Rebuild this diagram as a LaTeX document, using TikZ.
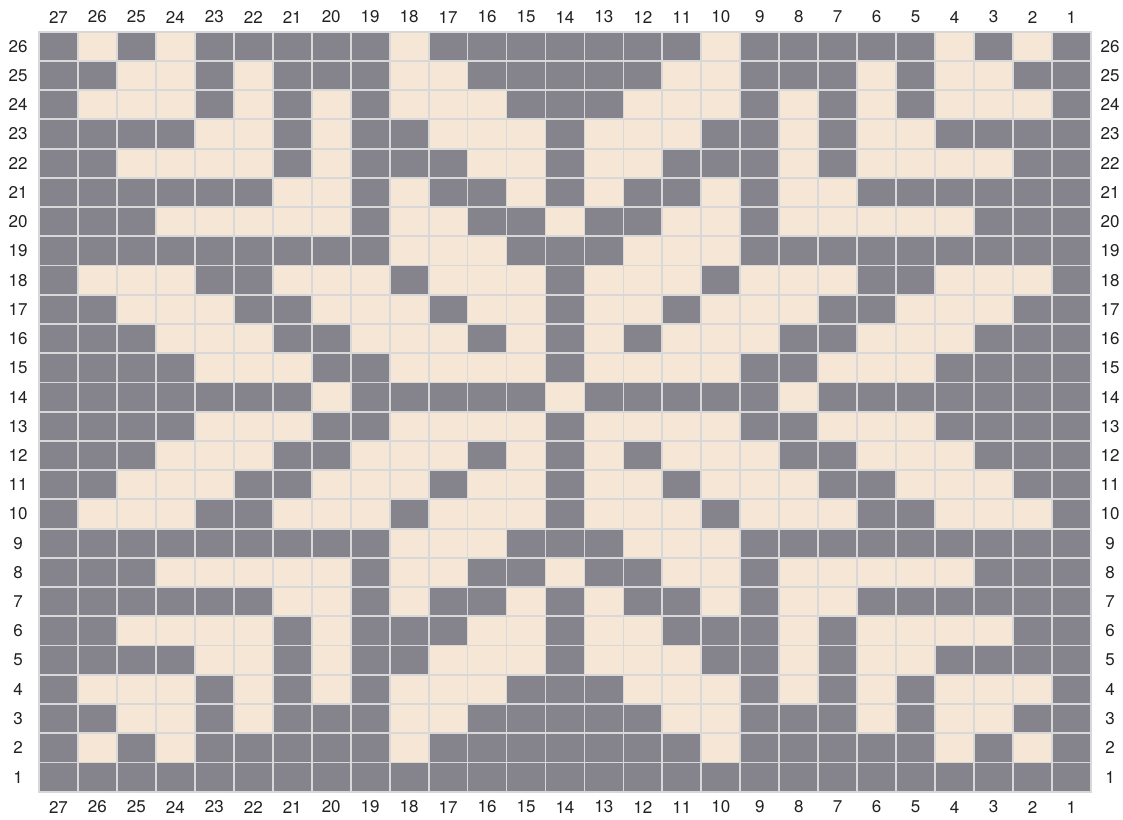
\documentclass[tikz,border=0pt]{standalone}
\usepackage{fontspec}
\setmainfont{TeX Gyre Heros}
\definecolor{stitchdark}{HTML}{85848C}
\definecolor{stitchlight}{HTML}{F5E6D6}
\definecolor{gridline}{HTML}{D8D8D8}
\definecolor{numtext}{HTML}{222222}

\begin{document}
\begin{tikzpicture}[x=1pt,y=-1pt,
    stitch/.style={draw=gridline,line width=1.8pt},
    num/.style={font=\fontsize{17}{20}\selectfont,text=numtext,anchor=center}
  ]
  \useasboundingbox (0,0) rectangle (1123,819);
  \fill[white] (0,0) rectangle (1123,819);
  \def\cw{38.96}
  \def\ch{29.23}
  % chart cells, 1 = dark, col 27 on the left
  \foreach \r/\row in {
      26/{1,0,1,0,1,1,1,1,1,0,1,1,1,1,1,1,1,0,1,1,1,1,1,0,1,0,1},
      25/{1,1,0,0,1,0,1,1,1,0,0,1,1,1,1,1,0,0,1,1,1,0,1,0,0,1,1},
      24/{1,0,0,0,1,0,1,0,1,0,0,0,1,1,1,0,0,0,1,0,1,0,1,0,0,0,1},
      23/{1,1,1,1,0,0,1,0,1,1,0,0,0,1,0,0,0,1,1,0,1,0,0,1,1,1,1},
      22/{1,1,0,0,0,0,1,0,1,1,1,0,0,1,0,0,1,1,1,0,1,0,0,0,0,1,1},
      21/{1,1,1,1,1,1,0,0,1,0,1,1,0,1,0,1,1,0,1,0,0,1,1,1,1,1,1},
      20/{1,1,1,0,0,0,0,0,1,0,0,1,1,0,1,1,0,0,1,0,0,0,0,0,1,1,1},
      19/{1,1,1,1,1,1,1,1,1,0,0,0,1,1,1,0,0,0,1,1,1,1,1,1,1,1,1},
      18/{1,0,0,0,1,1,0,0,0,1,0,0,0,1,0,0,0,1,0,0,0,1,1,0,0,0,1},
      17/{1,1,0,0,0,1,1,0,0,0,1,0,0,1,0,0,1,0,0,0,1,1,0,0,0,1,1},
      16/{1,1,1,0,0,0,1,1,0,0,0,1,0,1,0,1,0,0,0,1,1,0,0,0,1,1,1},
      15/{1,1,1,1,0,0,0,1,1,0,0,0,0,1,0,0,0,0,1,1,0,0,0,1,1,1,1},
      14/{1,1,1,1,1,1,1,0,1,1,1,1,1,0,1,1,1,1,1,0,1,1,1,1,1,1,1},
      13/{1,1,1,1,0,0,0,1,1,0,0,0,0,1,0,0,0,0,1,1,0,0,0,1,1,1,1},
      12/{1,1,1,0,0,0,1,1,0,0,0,1,0,1,0,1,0,0,0,1,1,0,0,0,1,1,1},
      11/{1,1,0,0,0,1,1,0,0,0,1,0,0,1,0,0,1,0,0,0,1,1,0,0,0,1,1},
      10/{1,0,0,0,1,1,0,0,0,1,0,0,0,1,0,0,0,1,0,0,0,1,1,0,0,0,1},
      9/{1,1,1,1,1,1,1,1,1,0,0,0,1,1,1,0,0,0,1,1,1,1,1,1,1,1,1},
      8/{1,1,1,0,0,0,0,0,1,0,0,1,1,0,1,1,0,0,1,0,0,0,0,0,1,1,1},
      7/{1,1,1,1,1,1,0,0,1,0,1,1,0,1,0,1,1,0,1,0,0,1,1,1,1,1,1},
      6/{1,1,0,0,0,0,1,0,1,1,1,0,0,1,0,0,1,1,1,0,1,0,0,0,0,1,1},
      5/{1,1,1,1,0,0,1,0,1,1,0,0,0,1,0,0,0,1,1,0,1,0,0,1,1,1,1},
      4/{1,0,0,0,1,0,1,0,1,0,0,0,1,1,1,0,0,0,1,0,1,0,1,0,0,0,1},
      3/{1,1,0,0,1,0,1,1,1,0,0,1,1,1,1,1,0,0,1,1,1,0,1,0,0,1,1},
      2/{1,0,1,0,1,1,1,1,1,0,1,1,1,1,1,1,1,0,1,1,1,1,1,0,1,0,1},
      1/{1,1,1,1,1,1,1,1,1,1,1,1,1,1,1,1,1,1,1,1,1,1,1,1,1,1,1}}{
    \foreach \v [count=\i] in \row{
      \ifnum\v=1 \def\fillc{stitchdark}\else\def\fillc{stitchlight}\fi
      \draw[stitch,fill=\fillc] ({39+(\i-1)*\cw},{31.7+(26-\r)*\ch}) rectangle ++(\cw,\ch);
    }
  }
  % column numbers
  \foreach \c [count=\i] in {27,26,...,1}{
    \node[num] (top-\c) at ({39+(\i-0.5)*\cw},17) {\c};
    \node[num] (bot-\c) at ({39+(\i-0.5)*\cw},807) {\c};
  }
  % row numbers
  \foreach \r in {1,...,26}{
    \node[num] (left-\r) at (18,{31.7+(26.5-\r)*\ch}) {\r};
    \node[num] (right-\r) at (1110,{31.7+(26.5-\r)*\ch}) {\r};
  }
\end{tikzpicture}
\end{document}
